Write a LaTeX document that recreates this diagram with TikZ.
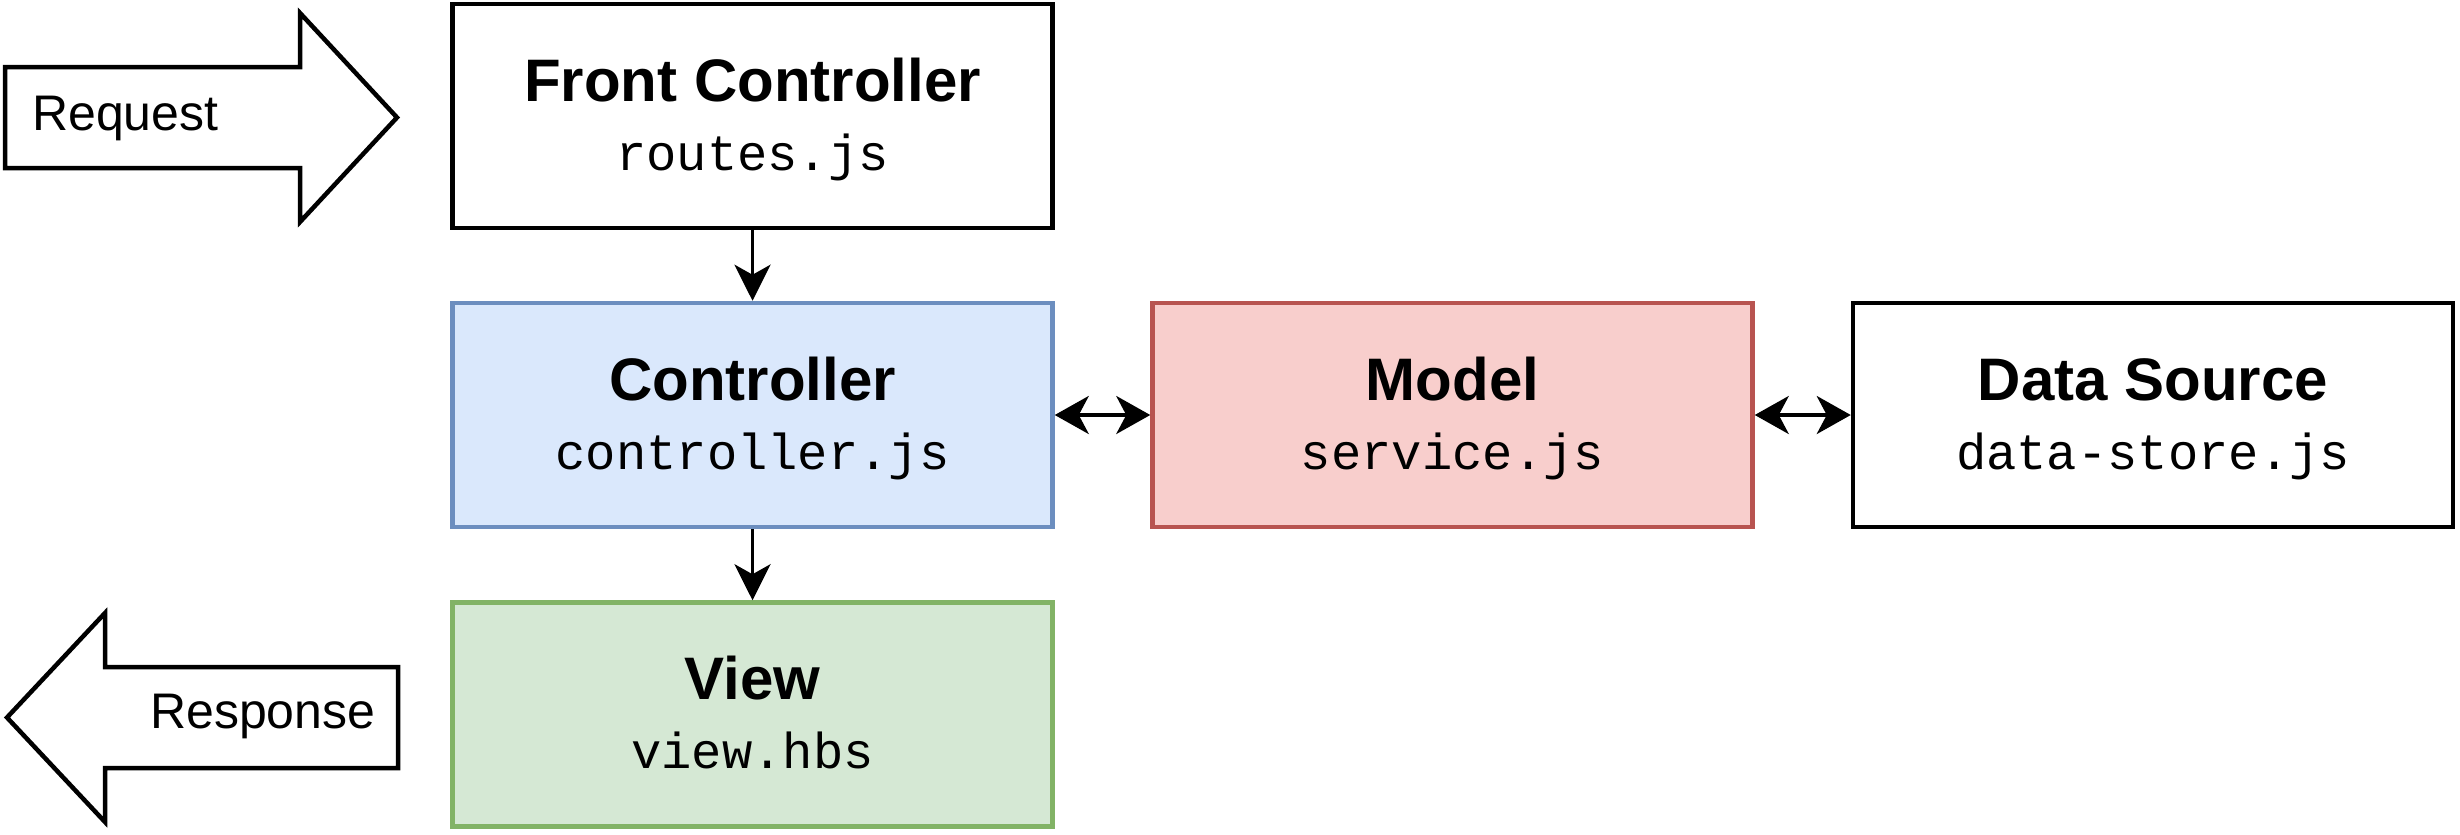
\documentclass[tikz,border=0pt]{standalone}
\usepackage{fontspec}
\setmainfont{Liberation Sans}
\newfontfamily\monof{Liberation Mono}
\usetikzlibrary{arrows.meta}
\definecolor{ctrlfill}{HTML}{DAE8FC}
\definecolor{ctrldraw}{HTML}{6C8EBF}
\definecolor{modfill}{HTML}{F8CECC}
\definecolor{moddraw}{HTML}{B85450}
\definecolor{viewfill}{HTML}{D5E8D4}
\definecolor{viewdraw}{HTML}{82B366}
\begin{document}
\begin{tikzpicture}[x=1pt,y=-1pt,
  box/.style={draw, line width=4.5pt, minimum width=600pt, minimum height=224pt, inner sep=0pt, anchor=center},
  ttl/.style={anchor=base, inner sep=0pt, font=\fontsize{60}{62}\selectfont\bfseries},
  code/.style={anchor=base, inner sep=0pt, font=\monof\fontsize{50.5}{52}\selectfont},
  lbl/.style={anchor=base west, inner sep=0pt, font=\fontsize{50}{52}\selectfont},
  blockarrow/.style={draw, line width=4.5pt, fill=white, line join=miter},
  conn/.style={line width=3.8pt, -{Stealth[length=36pt,width=36pt,inset=10pt]}},
  dconn/.style={line width=3.8pt, {Stealth[length=34pt,width=38pt,inset=10pt]}-{Stealth[length=34pt,width=38pt,inset=10pt]}}
]
\useasboundingbox (0,0) rectangle (2460,835);

% block arrows
\draw[blockarrow] (5,67) -- (300,67) -- (300,13) -- (397,117.5) -- (300,222) -- (300,168) -- (5,168) -- cycle;
\node[lbl] (req) at (32,130) {Request};
\draw[blockarrow] (398,667) -- (105,667) -- (105,613) -- (7,717.5) -- (105,822) -- (105,768) -- (398,768) -- cycle;
\node[lbl] (resp) at (150,728) {Response};

% boxes
\node[box] (front) at (752.5,116) {};
\node[ttl] (frontT) at (752.5,101) {Front Controller};
\node[code] (frontC) at (752.5,170) {routes.js};

\node[box, fill=ctrlfill, draw=ctrldraw] (ctrl) at (752.5,415) {};
\node[ttl] (ctrlT) at (752.5,400) {Controller};
\node[code] (ctrlC) at (752.5,469) {controller.js};

\node[box, fill=viewfill, draw=viewdraw] (view) at (752.5,714.5) {};
\node[ttl] (viewT) at (752.5,699.5) {View};
\node[code] (viewC) at (752.5,768.5) {view.hbs};

\node[box, fill=modfill, draw=moddraw] (model) at (1452.5,415) {};
\node[ttl] (modelT) at (1452.5,400) {Model};
\node[code] (modelC) at (1452.5,469) {service.js};

\node[box] (data) at (2153,415) {};
\node[ttl] (dataT) at (2153,400) {Data Source};
\node[code] (dataC) at (2153,469) {data-store.js};

% connectors
\draw[conn] (front.south) -- (ctrl.north);
\draw[conn] (ctrl.south) -- (view.north);
\draw[dconn] (ctrl.east) -- (model.west);
\draw[dconn] (model.east) -- (data.west);
\end{tikzpicture}
\end{document}
